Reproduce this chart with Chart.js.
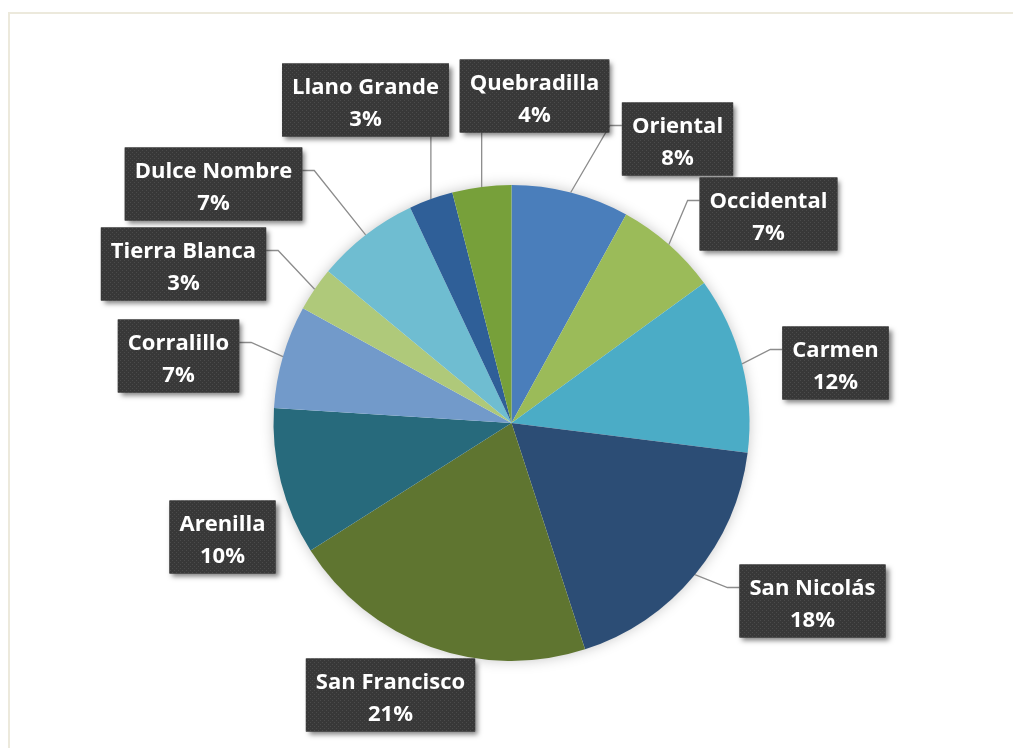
<!DOCTYPE html>
<html>
<head>
<meta charset="utf-8">
<script src="https://cdn.jsdelivr.net/npm/chart.js@4.4.1/dist/chart.umd.min.js"></script>
<style>
  html, body { margin: 0; padding: 0; background: #fff; }
  #wrap { position: relative; width: 1013px; height: 748px; overflow: hidden; }
  #frame { position: absolute; left: 8px; top: 12px; width: 1100px; height: 800px;
           border-left: 2px solid #ece9dc; border-top: 2px solid #ece9dc; }
  canvas { position: absolute; left: 0; top: 0; }
</style>
</head>
<body>
<div id="wrap">
  <div id="frame"></div>
  <canvas id="chart" width="1013" height="748"></canvas>
</div>
<script>
const districts = ['Oriental', 'Occidental', 'Carmen', 'San Nicolás', 'San Francisco', 'Arenilla',
  'Corralillo', 'Tierra Blanca', 'Dulce Nombre', 'Llano Grande', 'Quebradilla']
const shares = [8, 7, 12, 18, 21, 10, 7, 3, 7, 3, 4]
const sliceColors = ['#4a7ebb', '#9bbb59', '#4bacc6', '#2c4d75', '#5f7530', '#276a7c',
  '#729aca', '#afc97a', '#6fbdd1', '#2f5f98', '#77a03a']

// label box centres, measured from the pie centre
const labelOffsets = [[166, -284], [257, -209], [324, -60], [301, 178], [-121, 272], [-289, 114],
  [-333, -67], [-328, -159], [-298, -239], [-146, -323], [23, -327]]

const LABEL_FONT = 'bold 22px "Open Sans", sans-serif'
const BOX_H = 73

function makeTexture (ctx) {
  const tile = document.createElement('canvas')
  tile.width = 4
  tile.height = 4
  const t = tile.getContext('2d')
  t.fillStyle = '#383838'
  t.fillRect(0, 0, 4, 4)
  t.fillStyle = '#4b4b4b'
  t.fillRect(0, 0, 1, 1)
  t.fillRect(2, 2, 1, 1)
  return ctx.createPattern(tile, 'repeat')
}

const pieShadow = {
  id: 'pieShadow',
  beforeDatasetsDraw (chart) {
    const arc = chart.getDatasetMeta(0).data[0]
    if (!arc) return
    const ctx = chart.ctx
    ctx.save()
    ctx.shadowColor = 'rgba(0,0,0,0.25)'
    ctx.shadowBlur = 14
    ctx.fillStyle = '#ffffff'
    ctx.beginPath()
    ctx.arc(arc.x, arc.y, arc.outerRadius - 1, 0, Math.PI * 2)
    ctx.fill()
    ctx.restore()
  }
}

const calloutLabels = {
  id: 'calloutLabels',
  afterDatasetsDraw (chart) {
    const ctx = chart.ctx
    const arcs = chart.getDatasetMeta(0).data
    const total = shares.reduce((a, b) => a + b, 0)
    const texture = makeTexture(ctx)
    ctx.save()
    ctx.font = LABEL_FONT

    arcs.forEach((arc, i) => {
      const mid = (arc.startAngle + arc.endAngle) / 2
      const px = arc.x + Math.cos(mid) * arc.outerRadius
      const py = arc.y + Math.sin(mid) * arc.outerRadius
      const pct = Math.round(shares[i] / total * 100) + '%'
      const w = Math.max(ctx.measureText(districts[i]).width, ctx.measureText(pct).width) + 20
      const cx = arc.x + labelOffsets[i][0]
      const cy = arc.y + labelOffsets[i][1]
      const left = cx - w / 2
      const right = cx + w / 2
      const top = cy - BOX_H / 2
      const bottom = cy + BOX_H / 2

      // leader line from the slice edge to the box
      const dx = Math.max(left - px, 0, px - right)
      const dy = Math.max(top - py, 0, py - bottom)
      if (Math.hypot(dx, dy) > 20) {
        ctx.strokeStyle = '#8c8c8c'
        ctx.lineWidth = 1.3
        ctx.beginPath()
        ctx.moveTo(px, py)
        if (px >= left && px <= right) {
          ctx.lineTo(px, py < top ? top : bottom)
        } else {
          const side = px < left ? left : right
          const dir = px < left ? -1 : 1
          const ay = top + 23
          ctx.lineTo(side + dir * 12, ay)
          ctx.lineTo(side, ay)
        }
        ctx.stroke()
      }

      // textured box with a soft drop shadow
      ctx.save()
      ctx.shadowColor = 'rgba(0,0,0,0.5)'
      ctx.shadowBlur = 5
      ctx.shadowOffsetX = 3
      ctx.shadowOffsetY = 3
      ctx.fillStyle = '#383838'
      ctx.fillRect(left, top, w, BOX_H)
      ctx.restore()
      ctx.fillStyle = texture
      ctx.fillRect(left, top, w, BOX_H)

      ctx.fillStyle = '#ffffff'
      ctx.textAlign = 'center'
      ctx.textBaseline = 'middle'
      ctx.fillText(districts[i], cx, top + 24)
      ctx.fillText(pct, cx, top + 56)
    })
    ctx.restore()
  }
}

new Chart(document.getElementById('chart'), {
  type: 'pie',
  data: {
    labels: districts,
    datasets: [{
      data: shares,
      backgroundColor: sliceColors,
      borderWidth: 0,
      hoverOffset: 0,
      offset: 0
    }]
  },
  options: {
    responsive: false,
    animation: false,
    events: [],
    layout: { padding: { top: 185, bottom: 87, left: 10, right: 0 } },
    plugins: {
      legend: { display: false },
      tooltip: { enabled: false }
    }
  },
  plugins: [pieShadow, calloutLabels]
})
</script>
</body>
</html>
